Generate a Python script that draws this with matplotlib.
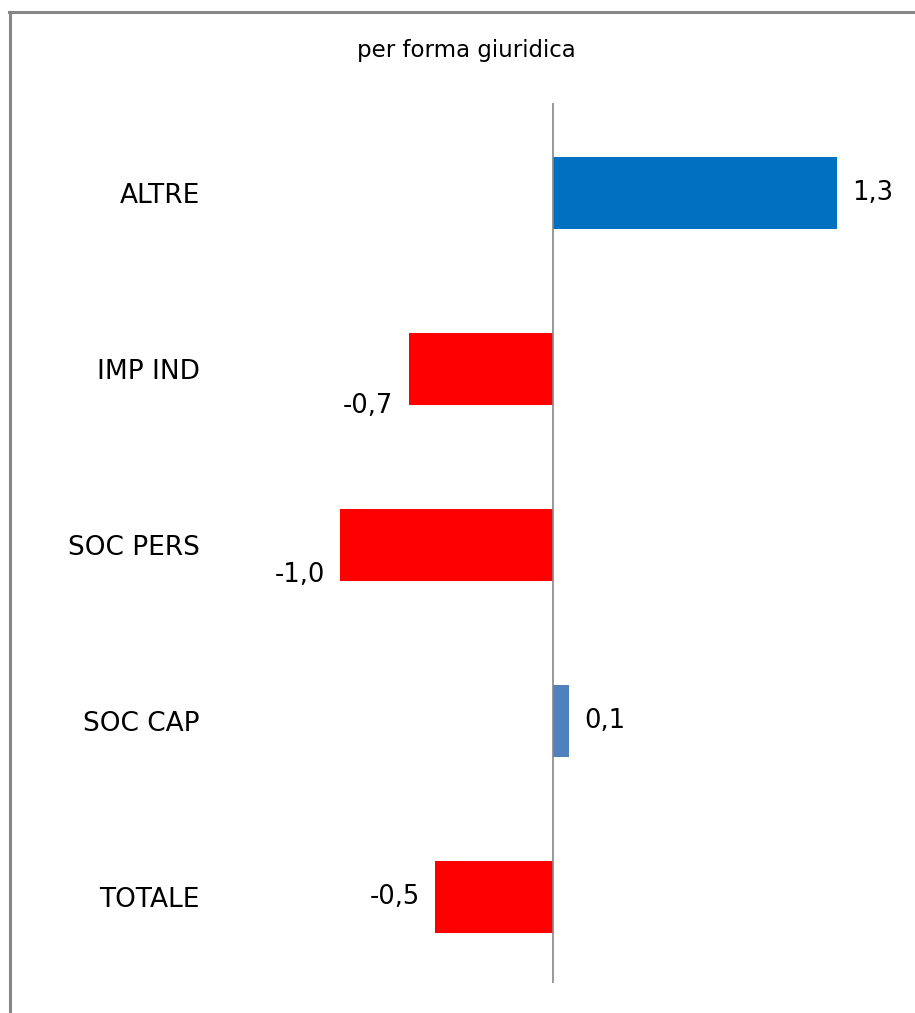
import matplotlib
matplotlib.use("Agg")
import matplotlib.pyplot as plt
from matplotlib.lines import Line2D

# Data (top to bottom)
categories = ["ALTRE", "IMP IND", "SOC PERS", "SOC CAP", "TOTALE"]
values = [1.303, -0.661, -0.977, 0.072, -0.541]
bar_colors = ["#0070C0", "#FF0000", "#FF0000", "#4F81BD", "#FF0000"]
title = "per forma giuridica"

# label vertical offsets in points (style)
label_dy = [0, -27, -22, 0, 0]

W, H = 915, 1013
fig = plt.figure(figsize=(W / 100, H / 100), dpi=100)
fig.patch.set_facecolor("white")

scale = 218.0  # px per unit
x0 = 553.0
xmin, xmax = -1.5, 1.6
left_px = x0 + xmin * scale
width_px = (xmax - xmin) * scale
top_px, bot_px = 103.0, 983.0
ax = fig.add_axes([left_px / W, (H - bot_px) / H, width_px / W, (bot_px - top_px) / H])

n = len(categories)
ypos = list(range(n))
ax.barh(ypos, values, height=0.41, color=bar_colors, zorder=2)
ax.set_xlim(xmin, xmax)
ax.set_ylim(n - 0.5 - 0.01, -0.5 - 0.01)
ax.axvline(0, color="#868686", lw=1.2, zorder=3)

for s in ax.spines.values():
    s.set_visible(False)
ax.set_xticks([])
ax.set_yticks(ypos)
ax.set_yticklabels(categories, fontsize=19)
ax.tick_params(axis="y", length=0, pad=19)

for i, v in enumerate(values):
    txt = f"{v:.1f}".replace(".", ",")
    if v >= 0:
        ax.annotate(txt, (v, i), xytext=(11, label_dy[i]), textcoords="offset points",
                    ha="left", va="center", fontsize=18.5)
    else:
        ax.annotate(txt, (v, i), xytext=(-11, label_dy[i]), textcoords="offset points",
                    ha="right", va="center", fontsize=18.5)

fig.text(466 / W, 1 - 50 / H, title, ha="center", va="center", fontsize=16.5)

# outer frame (left and top visible)
fig.add_artist(Line2D([9.5 / W, 9.5 / W], [0, 1 - 12 / H], transform=fig.transFigure,
                      color="#868686", lw=2.2))
fig.add_artist(Line2D([8.5 / W, 1], [1 - 12 / H, 1 - 12 / H], transform=fig.transFigure,
                      color="#868686", lw=2.2))

fig.savefig("out.png", dpi=100, facecolor="white")
